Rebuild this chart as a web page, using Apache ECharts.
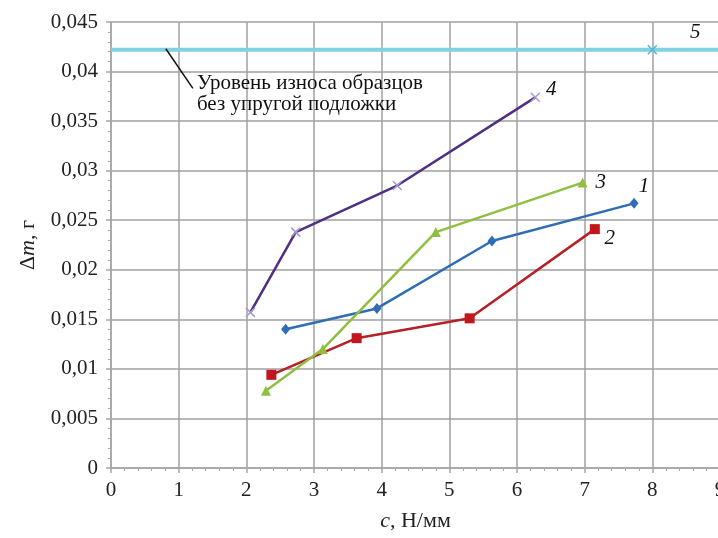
<!DOCTYPE html>
<html>
<head>
<meta charset="utf-8">
<script src="https://cdn.jsdelivr.net/npm/echarts@6/dist/echarts.min.js"></script>
<style>
  html, body { margin: 0; padding: 0; background: #fff; }
  #chart { width: 718px; height: 538px; }
</style>
</head>
<body>
<div id="chart"></div>
<script>
// Wear loss Δm (g) versus substrate stiffness c (N/mm)
const xTickLabels = ['0', '1', '2', '3', '4', '5', '6', '7', '8', '9'];
const yTickLabels = ['0', '0,005', '0,01', '0,015', '0,02', '0,025', '0,03', '0,035', '0,04', '0,045'];

const curve1 = [[2.58, 0.0140], [3.93, 0.0161], [5.63, 0.0229], [7.73, 0.0267]];
const curve2 = [[2.37, 0.0094], [3.63, 0.0131], [5.30, 0.0151], [7.15, 0.0241]];
const curve3 = [[2.29, 0.0078], [3.13, 0.0120], [4.80, 0.0238], [6.97, 0.0288]];
const curve4 = [[2.06, 0.0157], [2.73, 0.0238], [4.23, 0.0285], [6.27, 0.0374]];
const level5 = [[0, 0.0422], [8, 0.0422], [9, 0.0422]];

const curveNames = ['1', '2', '3', '4', '5'];
const noteLines = ['Уровень износа образцов', 'без упругой подложки'];
const leaderFrom = [0.81, 0.0423];
const leaderTo = [1.21, 0.0383];
const notePos = [1.27, 0.0399];

const serif = '"Liberation Serif", "Times New Roman", serif';
const crossPath = 'path://M0,0L10,10M10,0L0,10';

function lastLabeled(points, name, offset) {
  return points.map((p, i) => {
    if (i !== points.length - 1) return p;
    return {
      value: p,
      label: {
        show: true, formatter: name, offset: offset, position: 'inside',
        fontFamily: serif, fontStyle: 'italic', fontSize: 21, color: '#111'
      }
    };
  });
}

const chart = echarts.init(document.getElementById('chart'));

const axisGray = '#a6a6a6';

const option = {
  animation: false,
  backgroundColor: '#ffffff',
  grid: { left: 111, right: -2, top: 22, bottom: 70, outerBoundsMode: 'none', containLabel: false },
  xAxis: {
    type: 'value', min: 0, max: 9, interval: 1,
    name: '{i|c}{n|, Н/мм}', nameLocation: 'middle', nameGap: 42,
    nameTextStyle: {
      rich: {
        i: { fontFamily: serif, fontStyle: 'italic', fontSize: 22, color: '#222' },
        n: { fontFamily: serif, fontSize: 22, color: '#222' }
      }
    },
    axisLine: { show: true, lineStyle: { color: axisGray, width: 1.5 } },
    axisTick: { show: true, inside: false, length: 5, lineStyle: { color: axisGray, width: 1.5 } },
    minorTick: { show: true, splitNumber: 5, length: 3, lineStyle: { color: axisGray, width: 1 } },
    splitLine: { show: true, lineStyle: { color: '#a0a0a0', width: 1.5 } },
    axisLabel: {
      fontFamily: serif, fontSize: 21, color: '#222', margin: 12,
      formatter: v => xTickLabels[Math.round(v)]
    }
  },
  yAxis: {
    type: 'value', min: 0, max: 0.045, interval: 0.005,
    name: '{d|Δ}{i|m}{n|, г}', nameLocation: 'middle', nameGap: 72, nameRotate: 90,
    nameTextStyle: {
      rich: {
        d: { fontFamily: serif, fontSize: 22, color: '#222' },
        i: { fontFamily: serif, fontStyle: 'italic', fontSize: 22, color: '#222' },
        n: { fontFamily: serif, fontSize: 22, color: '#222' }
      }
    },
    axisLine: { show: true, lineStyle: { color: axisGray, width: 1.5 } },
    axisTick: { show: true, inside: false, length: 5, lineStyle: { color: axisGray, width: 1.5 } },
    minorTick: { show: true, splitNumber: 5, length: 3, lineStyle: { color: axisGray, width: 1 } },
    splitLine: { show: true, lineStyle: { color: '#a0a0a0', width: 1.5 } },
    axisLabel: {
      fontFamily: serif, fontSize: 21, color: '#222', margin: 13,
      formatter: v => yTickLabels[Math.round(v / 0.005)]
    }
  },
  series: [
    {
      name: curveNames[4], type: 'line', data: level5.map((p, i) => i === 1 ? {
        value: p, symbol: crossPath, symbolSize: 9,
        label: {
          show: true, formatter: curveNames[4], position: 'inside', offset: [43, -17],
          fontFamily: serif, fontStyle: 'italic', fontSize: 21, color: '#111'
        }
      } : { value: p, symbol: 'none' }),
      lineStyle: { color: '#7fd1e3', width: 4 },
      itemStyle: { color: '#5ab3cc', borderColor: '#5ab3cc', borderWidth: 1.5 },
      z: 3
    },
    {
      name: curveNames[0], type: 'line', data: lastLabeled(curve1, curveNames[0], [10, -17]),
      symbol: 'diamond', symbolSize: [9, 11], showAllSymbol: true,
      lineStyle: { color: '#2f6db5', width: 2.5 },
      itemStyle: { color: '#2f6db5' }, z: 4
    },
    {
      name: curveNames[1], type: 'line', data: lastLabeled(curve2, curveNames[1], [15, 9]),
      symbol: 'rect', symbolSize: 10,
      lineStyle: { color: '#b52126', width: 2.5 },
      itemStyle: { color: '#c0161c' }, z: 4
    },
    {
      name: curveNames[2], type: 'line', data: lastLabeled(curve3, curveNames[2], [18, 0]),
      symbol: 'triangle', symbolSize: 10,
      lineStyle: { color: '#8fbf3f', width: 2.5 },
      itemStyle: { color: '#8fbf3f' }, z: 4
    },
    {
      name: curveNames[3], type: 'line', data: lastLabeled(curve4, curveNames[3], [16, -8]),
      symbol: crossPath, symbolSize: 9,
      lineStyle: { color: '#4e2f83', width: 2.5 },
      itemStyle: { color: '#a89ccc', borderColor: '#a89ccc', borderWidth: 1.5 }, z: 4
    }
  ]
};

chart.setOption(option);

// leader line and caption for the reference level
const a = chart.convertToPixel({ gridIndex: 0 }, leaderFrom);
const b = chart.convertToPixel({ gridIndex: 0 }, leaderTo);
const t = chart.convertToPixel({ gridIndex: 0 }, notePos);
chart.setOption({
  graphic: [
    {
      type: 'line', shape: { x1: a[0], y1: a[1], x2: b[0], y2: b[1] },
      style: { stroke: '#111', lineWidth: 1.5 }, z: 10
    },
    {
      type: 'text', x: t[0], y: t[1],
      style: {
        text: noteLines.join('\n'), fontFamily: serif, fontSize: 21, lineHeight: 21,
        fill: '#111', verticalAlign: 'top', align: 'left'
      }, z: 10
    }
  ]
});
</script>
</body>
</html>
